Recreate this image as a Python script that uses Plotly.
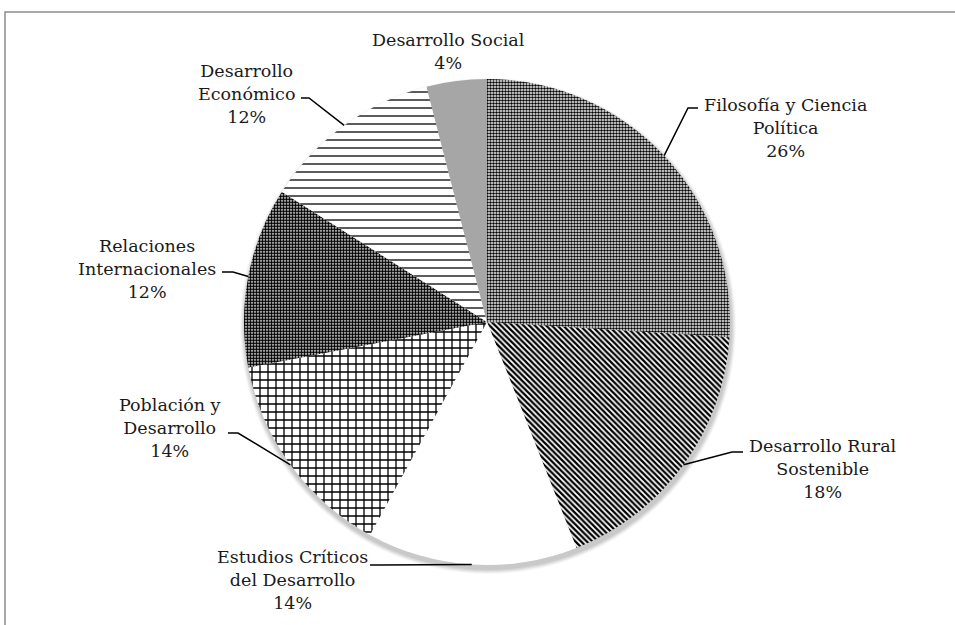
import math
import plotly.graph_objects as go

# ---------------- data ----------------
categories = [
    "Filosofía y Ciencia Política",
    "Desarrollo Rural Sostenible",
    "Estudios Críticos del Desarrollo",
    "Población y Desarrollo",
    "Relaciones Internacionales",
    "Desarrollo Económico",
    "Desarrollo Social",
]
label_lines = [
    "Filosofía y Ciencia<br>Política",
    "Desarrollo Rural<br>Sostenible",
    "Estudios Críticos<br>del Desarrollo",
    "Población y<br>Desarrollo",
    "Relaciones<br>Internacionales",
    "Desarrollo<br>Económico",
    "Desarrollo Social",
]
values = [26, 18, 14, 14, 12, 12, 4]

# ---------------- styling ----------------
W, H = 955, 625
CX, CY, R = 487, 322, 243  # pie geometry in pixels (layout)

pat_shape = [".", "\\", "", "+", ".", "-", ""]
pat_size = [3, 4, 8, 8, 3, 8, 8]
pat_solid = [0.55, 0.55, 0.0, 0.3, 0.66, 0.16, 0.0]
fills = ["white", "white", "white", "white", "white", "white", "#a6a6a6"]

# label block centres (px) and leader elbows (text end, elbow)
label_pos = [(785, 128), (823, 469), (292, 580), (170, 428), (147, 269), (246, 94), (448, 51)]
leaders = [
    [(698, 108), (688, 108)],
    [(743, 452), (732, 452)],
    [(370, 565), (380, 565)],
    [(228, 433), (238, 433)],
    [(222, 272), (233, 272)],
    [(301, 98), (309, 98)],
    None,
]


def px(x):
    return x / W


def py(y):
    return 1 - y / H


fig = go.Figure()

fig.add_trace(go.Pie(
    labels=categories,
    values=values,
    sort=False,
    direction="clockwise",
    rotation=0,
    textinfo="none",
    hoverinfo="label+percent",
    showlegend=False,
    domain=dict(x=[px(CX - R), px(CX + R)], y=[py(CY + R), py(CY - R)]),
    marker=dict(
        colors=fills,
        line=dict(width=0),
        pattern=dict(
            shape=pat_shape,
            size=pat_size,
            solidity=pat_solid,
            fgcolor="black",
            fgopacity=1,
            fillmode="overlay",
        ),
    ),
))

shapes = []
# soft drop shadow behind the pie
for k, a in enumerate([0.05, 0.05, 0.05, 0.04, 0.03]):
    rr = R + 1 + k
    shapes.append(dict(
        type="circle", xref="paper", yref="paper", layer="below",
        x0=px(CX + 1 - rr), x1=px(CX + 1 + rr), y0=py(CY + 4 + rr), y1=py(CY + 4 - rr),
        fillcolor=f"rgba(0,0,0,{a})", line=dict(width=0),
    ))

# border of the chart area
shapes.append(dict(
    type="rect", xref="paper", yref="paper",
    x0=px(5), x1=px(W + 20), y0=py(H + 20), y1=py(12),
    line=dict(color="#8c8c8c", width=1.5), fillcolor="rgba(0,0,0,0)",
))

total = sum(values)
annotations = []
cum = 0
for i, v in enumerate(values):
    mid = (cum + v / 2) / total * 2 * math.pi
    cum += v
    ex = CX + R * math.sin(mid)
    ey = CY - R * math.cos(mid)
    pct = f"{round(v / total * 100)}%"
    lx, ly = label_pos[i]
    annotations.append(dict(
        x=px(lx), y=py(ly), xref="paper", yref="paper",
        text=f"{label_lines[i]}<br>{pct}", showarrow=False,
        align="center", xanchor="center", yanchor="middle",
        font=dict(family="DejaVu Serif", size=17.5, color="#1a1a1a"),
    ))
    if leaders[i] is not None:
        (x0, y0), (x1, y1) = leaders[i]
        path = f"M {px(x0)},{py(y0)} L {px(x1)},{py(y1)} L {px(ex)},{py(ey)}"
        shapes.append(dict(
            type="path", xref="paper", yref="paper", path=path,
            line=dict(color="black", width=1.5),
        ))

fig.update_layout(
    width=W, height=H,
    margin=dict(l=0, r=0, t=0, b=0),
    paper_bgcolor="white",
    plot_bgcolor="white",
    shapes=shapes,
    annotations=annotations,
)

fig.write_html(
    "out.html",
    config={"displayModeBar": False},
    post_script="document.body.style.margin='0';document.body.style.overflow='hidden';",
)
